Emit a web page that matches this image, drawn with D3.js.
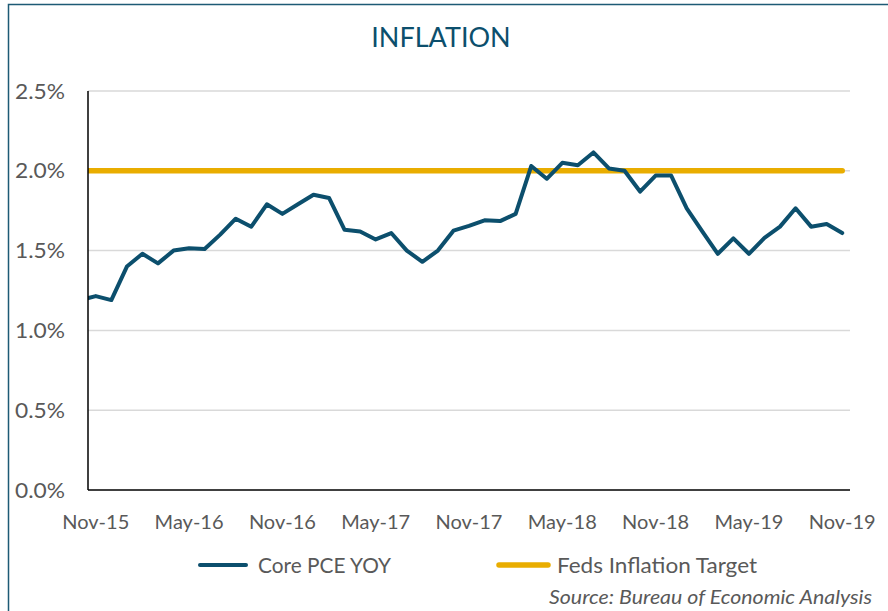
<!DOCTYPE html>
<html>
<head>
<meta charset="utf-8">
<script src="https://cdn.jsdelivr.net/npm/d3@7"></script>
<style>
  html, body { margin: 0; padding: 0; background: #fff; }
  svg { display: block; }
  text { font-family: Lato, "Open Sans", sans-serif; }
</style>
</head>
<body>
<svg id="chart" width="888" height="611"></svg>
<script>
// Months: Oct-15 (just before the axis start, clipped) through Nov-19
const months = [
  "Oct-15","Nov-15","Dec-15","Jan-16","Feb-16","Mar-16","Apr-16","May-16","Jun-16","Jul-16","Aug-16","Sep-16","Oct-16",
  "Nov-16","Dec-16","Jan-17","Feb-17","Mar-17","Apr-17","May-17","Jun-17","Jul-17","Aug-17","Sep-17","Oct-17",
  "Nov-17","Dec-17","Jan-18","Feb-18","Mar-18","Apr-18","May-18","Jun-18","Jul-18","Aug-18","Sep-18","Oct-18",
  "Nov-18","Dec-18","Jan-19","Feb-19","Mar-19","Apr-19","May-19","Jun-19","Jul-19","Aug-19","Sep-19","Oct-19","Nov-19"
];
const corePCE = [
  1.19, 1.215, 1.19, 1.40, 1.48, 1.42, 1.50, 1.515, 1.51, 1.60, 1.70, 1.65, 1.79,
  1.73, 1.79, 1.85, 1.83, 1.63, 1.62, 1.57, 1.61, 1.50, 1.43, 1.50, 1.625,
  1.655, 1.69, 1.685, 1.73, 2.03, 1.95, 2.05, 2.035, 2.115, 2.015, 2.00, 1.87,
  1.97, 1.97, 1.765, 1.62, 1.48, 1.577, 1.48, 1.58, 1.65, 1.765, 1.65, 1.667, 1.61
];
const fedTarget = months.map(() => 2.0);
const xTickLabels = ["Nov-15","May-16","Nov-16","May-17","Nov-17","May-18","Nov-18","May-19","Nov-19"];
const yTicks = [0, 0.5, 1.0, 1.5, 2.0, 2.5];
const seriesNames = ["Core PCE YOY", "Feds Inflation Target"];
const titleText = "INFLATION";
const sourceText = "Source: Bureau of Economic Analysis";

const colors = { pce: "#0c4f6d", target: "#e9ad00", grid: "#d9d9d9", axis: "#000", label: "#595959", title: "#0c4f6d", border: "#1d5a75" };

const svg = d3.select("#chart");
const plot = { left: 88, right: 850, top: 91, bottom: 490 };

// border
svg.append("rect").attr("x", 8.5).attr("y", 4.5).attr("width", 890).attr("height", 620)
  .attr("fill", "#fff").attr("stroke", colors.border).attr("stroke-width", 1.5);

// index 0 = Oct-15; Nov-15 at index 1; axis spans half a month each side of Nov-15..Nov-19
const x = d3.scaleLinear().domain([0.5, months.length - 0.5]).range([plot.left, plot.right]);
const y = d3.scaleLinear().domain([0, 2.5]).range([plot.bottom, plot.top]);

// gridlines
svg.append("g").selectAll("line").data(yTicks.filter(d => d > 0)).join("line")
  .attr("x1", plot.left).attr("x2", plot.right)
  .attr("y1", d => y(d)).attr("y2", d => y(d))
  .attr("stroke", colors.grid).attr("stroke-width", 1.5);

// y labels
svg.append("g").selectAll("text").data(yTicks).join("text")
  .attr("x", 15).attr("y", d => y(d) + 7.5)
  .attr("fill", colors.label).attr("font-size", 21.5)
  .attr("textLength", 50).attr("lengthAdjust", "spacingAndGlyphs")
  .text(d => d3.format(".1f")(d) + "%");

// x labels
svg.append("g").selectAll("text").data(xTickLabels).join("text")
  .attr("x", d => x(months.indexOf(d))).attr("y", 529)
  .attr("text-anchor", "middle").attr("fill", colors.label).attr("font-size", 20)
  .text(d => d);

// clip
svg.append("clipPath").attr("id", "clip").append("rect")
  .attr("x", plot.left).attr("y", 0).attr("width", plot.right - plot.left + 10).attr("height", plot.bottom);

const line = d3.line().x((d, i) => x(i)).y(d => y(d));

svg.append("path").datum(fedTarget).attr("clip-path", "url(#clip)")
  .attr("d", line).attr("fill", "none").attr("stroke", colors.target)
  .attr("stroke-width", 5.5).attr("stroke-linecap", "round");

svg.append("path").datum(corePCE).attr("clip-path", "url(#clip)")
  .attr("d", line).attr("fill", "none").attr("stroke", colors.pce)
  .attr("stroke-width", 4).attr("stroke-linejoin", "round").attr("stroke-linecap", "round");

// axes lines
svg.append("line").attr("x1", plot.left).attr("x2", plot.left).attr("y1", plot.top).attr("y2", plot.bottom)
  .attr("stroke", colors.axis).attr("stroke-width", 1.5);
svg.append("line").attr("x1", plot.left).attr("x2", plot.right).attr("y1", plot.bottom).attr("y2", plot.bottom)
  .attr("stroke", colors.axis).attr("stroke-width", 1.5);

// title
svg.append("text").attr("x", 441).attr("y", 47).attr("text-anchor", "middle")
  .attr("fill", colors.title).attr("font-size", 27).text(titleText);

// legend
const legend = [
  { name: seriesNames[0], color: colors.pce, x1: 200, x2: 246, tx: 258, tl: 133, w: 4 },
  { name: seriesNames[1], color: colors.target, x1: 499, x2: 548, tx: 557, tl: 200, w: 5.5 }
];
const lg = svg.append("g");
lg.selectAll("line").data(legend).join("line")
  .attr("x1", d => d.x1).attr("x2", d => d.x2).attr("y1", 565).attr("y2", 565)
  .attr("stroke", d => d.color).attr("stroke-width", d => d.w).attr("stroke-linecap", "round");
lg.selectAll("text").data(legend).join("text")
  .attr("x", d => d.tx).attr("y", 573).attr("fill", colors.label).attr("font-size", 21)
  .attr("textLength", d => d.tl).attr("lengthAdjust", "spacingAndGlyphs")
  .text(d => d.name);

svg.append("text").attr("x", 549).attr("y", 604)
  .attr("fill", colors.label).attr("font-size", 18.5).attr("font-style", "italic")
  .attr("textLength", 323).attr("lengthAdjust", "spacingAndGlyphs")
  .text(sourceText);
</script>
</body>
</html>
